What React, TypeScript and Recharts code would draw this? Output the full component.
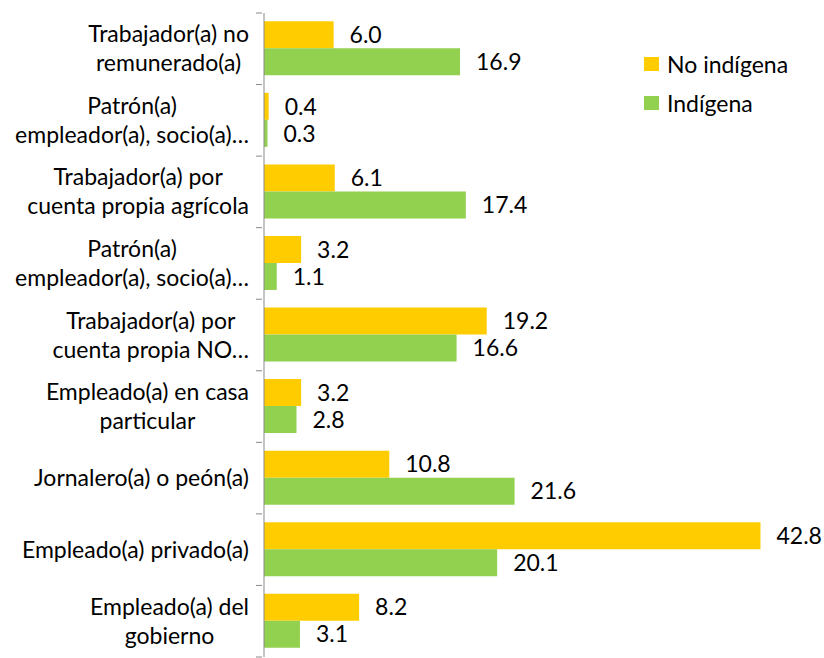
import { BarChart, Bar, XAxis, YAxis, LabelList } from "recharts";

const categories = [
  "Trabajador(a) no\nremunerado(a)",
  "Patrón(a)\nempleador(a), socio(a)…",
  "Trabajador(a) por\ncuenta propia agrícola",
  "Patrón(a)\nempleador(a), socio(a)…",
  "Trabajador(a) por\ncuenta propia NO…",
  "Empleado(a) en casa\nparticular",
  "Jornalero(a) o peón(a)",
  "Empleado(a) privado(a)",
  "Empleado(a) del\ngobierno",
];
const noIndigena = [6.0, 0.4, 6.1, 3.2, 19.2, 3.2, 10.8, 42.8, 8.2];
const indigena = [16.9, 0.3, 17.4, 1.1, 16.6, 2.8, 21.6, 20.1, 3.1];
const seriesNames = ["No indígena", "Indígena"];
const colors = ["#FFCC00", "#92D050"];

const data = categories.map((name, i) => ({
  name,
  key: i,
  noIndigena: noIndigena[i],
  indigena: indigena[i],
}));

const W = 824;
const H = 658;
const TOP = 13;
const BOTTOM = 1;
const FONT = "Lato, sans-serif";
const FS = 23;
const band = (H - TOP - BOTTOM) / categories.length;

let ctx: CanvasRenderingContext2D | null = null;
const textWidth = (s: string) => {
  if (!ctx) ctx = document.createElement("canvas").getContext("2d");
  if (!ctx) return s.length * FS * 0.5;
  ctx.font = `${FS}px ${FONT}`;
  return ctx.measureText(s).width;
};

// wrapped labels: lines centred on each other, block right-aligned to the axis
const CategoryTick = (props: any) => {
  const { x, y, payload, index } = props;
  const lines = categories[payload.value].split("\n");
  const lh = 29;
  const start = y - ((lines.length - 1) * lh) / 2;
  const maxW = Math.max(...lines.map(textWidth));
  const cx = x - 7 - maxW / 2;
  return (
    <g>
      <line x1={x} x2={x + 6} y1={y - band / 2} y2={y - band / 2} stroke="#898989" />
      {index === categories.length - 1 && (
        <line x1={x} x2={x + 6} y1={y + band / 2} y2={y + band / 2} stroke="#898989" />
      )}
      <text x={cx} y={start} textAnchor="middle" fontFamily={FONT} fontSize={FS} fill="#000">
        {lines.map((l, i) => (
          <tspan key={i} x={cx} y={start + i * lh} dy="0.35em">
            {l}
          </tspan>
        ))}
      </text>
    </g>
  );
};

const fmt = (v: any) => Number(v).toFixed(1);

export default function App() {
  return (
    <div style={{ position: "absolute", left: 0, top: 0, width: W, height: H, background: "#fff" }}>
      <BarChart
        width={W}
        height={H}
        data={data}
        layout="vertical"
        margin={{ top: TOP, right: 38, left: 0, bottom: BOTTOM }}
        barCategoryGap="11.6%"
        barGap={0}
      >
        <XAxis type="number" domain={[0, 45]} hide />
        <YAxis
          type="category"
          dataKey="key"
          width={264}
          axisLine={{ stroke: "#898989" }}
          tickLine={false}
          tick={<CategoryTick />}
          interval={0}
        />
        <Bar dataKey="noIndigena" fill={colors[0]} isAnimationActive={false}>
          <LabelList
            dataKey="noIndigena"
            position="right"
            offset={16}
            formatter={fmt}
            style={{ fontFamily: FONT, fontSize: FS, fill: "#000" }}
          />
        </Bar>
        <Bar dataKey="indigena" fill={colors[1]} isAnimationActive={false}>
          <LabelList
            dataKey="indigena"
            position="right"
            offset={16}
            formatter={fmt}
            style={{ fontFamily: FONT, fontSize: FS, fill: "#000" }}
          />
        </Bar>
      </BarChart>
      <div
        style={{
          position: "absolute",
          left: 644,
          top: 44,
          fontFamily: FONT,
          fontSize: FS,
          color: "#000",
        }}
      >
        {seriesNames.map((t, i) => (
          <div key={t} style={{ display: "flex", alignItems: "center", height: 39 }}>
            <span style={{ width: 15, height: 14, background: colors[i], marginRight: 8, display: "inline-block" }} />
            <span>{t}</span>
          </div>
        ))}
      </div>
    </div>
  );
}
